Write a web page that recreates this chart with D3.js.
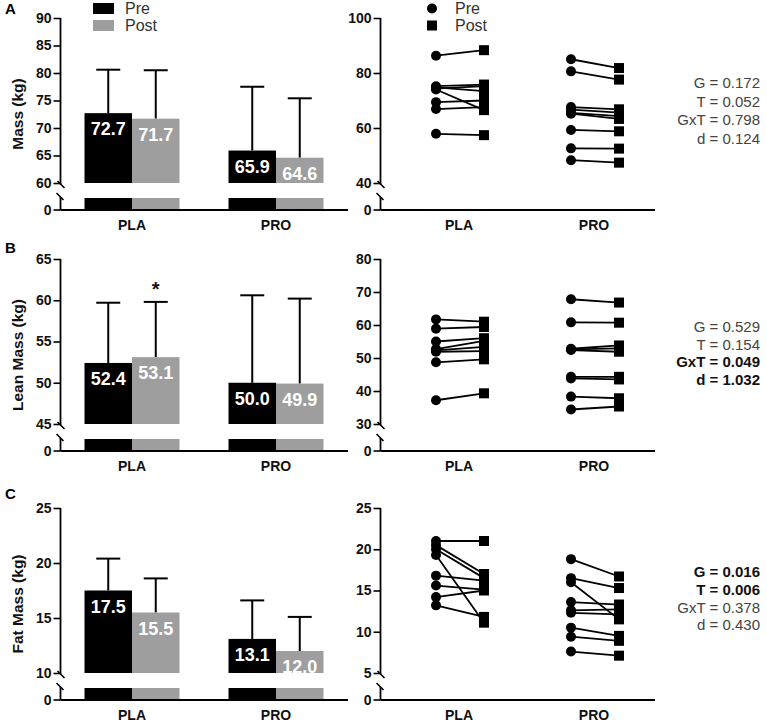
<!DOCTYPE html>
<html><head><meta charset="utf-8">
<script src="https://cdn.jsdelivr.net/npm/d3@7"></script>
<style>
body{margin:0;background:#fff;}
svg{display:block;font-family:Arial,"Liberation Sans",sans-serif;}
</style></head><body>
<svg id="chart" width="767" height="724"></svg>
<script>
// ---------- DATA ----------
const categories = ["PLA", "PRO"];
const timepoints = ["Pre", "Post"];

// Panel A: Mass (kg)
const massMeanPre  = [72.7, 65.9];
const massMeanPost = [71.7, 64.6];
const massSdPre    = [7.9, 11.6];
const massSdPost   = [8.8, 10.8];
const massPLApre  = [86.3, 75.2, 74.8, 74.3, 74.0, 69.4, 66.9, 57.9];
const massPLApost = [88.3, 75.8, 73.4, 75.2, 66.5, 70.0, 67.6, 57.4];
const massPROpre  = [85.0, 80.6, 67.6, 66.7, 65.5, 65.2, 59.3, 52.6, 48.3];
const massPROpost = [81.8, 77.6, 66.8, 65.6, 64.3, 63.3, 58.8, 52.5, 47.4];
const massLeftTicks  = [60, 65, 70, 75, 80, 85, 90];
const massRightTicks = [40, 60, 80, 100];
const massStats = ["G = 0.172", "T = 0.052", "GxT = 0.798", "d = 0.124"];
const massStatsBold = [false, false, false, false];

// Panel B: Lean Mass (kg)
const leanMeanPre  = [52.4, 50.0];
const leanMeanPost = [53.1, 49.9];
const leanSdPre    = [7.3, 10.6];
const leanSdPost   = [6.7, 10.3];
const leanPLApre  = [61.7, 58.9, 55.0, 52.7, 52.3, 51.9, 48.7, 37.2];
const leanPLApost = [61.0, 59.4, 56.0, 55.2, 53.4, 52.1, 49.6, 39.3];
const leanPROpre  = [67.8, 60.8, 52.8, 52.6, 52.4, 44.3, 43.8, 38.3, 34.4];
const leanPROpost = [66.8, 60.7, 53.8, 52.9, 51.9, 44.3, 43.5, 37.8, 35.3];
const leanLeftTicks  = [45, 50, 55, 60, 65];
const leanRightTicks = [30, 40, 50, 60, 70, 80];
const leanStats = ["G = 0.529", "T = 0.154", "GxT = 0.049", "d = 1.032"];
const leanStatsBold = [false, false, true, true];

// Panel C: Fat Mass (kg)
const fatMeanPre  = [17.5, 13.1];
const fatMeanPost = [15.5, 12.0];
const fatSdPre    = [2.9, 3.5];
const fatSdPost   = [3.1, 3.1];
const fatPLApre  = [21.0, 20.5, 20.0, 19.3, 16.8, 15.6, 14.2, 13.2];
const fatPLApost = [21.0, 17.0, 16.5, 11.1, 16.2, 15.1, 15.0, 11.8];
const fatPROpre  = [18.8, 16.5, 16.0, 13.6, 12.6, 12.3, 10.5, 9.4, 7.6];
const fatPROpost = [16.7, 15.3, 11.5, 13.3, 12.7, 12.1, 9.5, 8.9, 7.1];
const fatLeftTicks  = [10, 15, 20, 25];
const fatRightTicks = [5, 10, 15, 20, 25];
const fatStats = ["G = 0.016", "T = 0.006", "GxT = 0.378", "d = 0.430"];
const fatStatsBold = [true, true, false, false];

// ---------- LAYOUT ----------
const svg = d3.select("#chart");
const FONT = 'Arial,"Liberation Sans",sans-serif';
const GRAY = "#9e9e9e";

const panels = [
  {letter:"A", title:"Mass (kg)", top:18, letterY:14,
   meanPre:massMeanPre, meanPost:massMeanPost, sdPre:massSdPre, sdPost:massSdPost,
   pre:[massPLApre, massPROpre], post:[massPLApost, massPROpost],
   leftTicks:massLeftTicks, rightTicks:massRightTicks,
   stats:massStats, bold:massStatsBold, statsY:83, statsGap:18.6, legend:true, star:false},
  {letter:"B", title:"Lean Mass (kg)", top:259, letterY:253,
   meanPre:leanMeanPre, meanPost:leanMeanPost, sdPre:leanSdPre, sdPost:leanSdPost,
   pre:[leanPLApre, leanPROpre], post:[leanPLApost, leanPROpost],
   leftTicks:leanLeftTicks, rightTicks:leanRightTicks,
   stats:leanStats, bold:leanStatsBold, statsY:327, statsGap:17.6, legend:false, star:true},
  {letter:"C", title:"Fat Mass (kg)", top:508, letterY:499,
   meanPre:fatMeanPre, meanPost:fatMeanPost, sdPre:fatSdPre, sdPost:fatSdPost,
   pre:[fatPLApre, fatPROpre], post:[fatPLApost, fatPROpost],
   leftTicks:fatLeftTicks, rightTicks:fatRightTicks,
   stats:fatStats, bold:fatStatsBold, statsY:572, statsGap:17.7, legend:false, star:false}
];

const SEG = 165;      // height of upper (broken) segment
const ZGAP = 27;      // distance break -> zero line
const STUB = 12;      // lower stub height

const leftAxisX = 60.5, leftEnd = 348;
const rightAxisX = 380.5, rightEnd = 655;

// group centres and bar offsets
const xGroupL = d3.scalePoint().domain(categories).range([132, 276]);
const xBar = d3.scaleBand().domain(timepoints).range([-47.5, 47.5]);
const xGroupR = d3.scalePoint().domain(categories).range([459, 594]);
const xTimeR = d3.scalePoint().domain(timepoints).range([-23, 25]);

function brokenAxis(g, ax, yUp, breakY, zeroY, ticks) {
  const axis = d3.axisLeft(yUp).tickValues(ticks).tickSize(7).tickPadding(2).tickFormat(d3.format("d"));
  const ga = g.append("g").attr("transform", `translate(${ax},0)`).call(axis);
  ga.select(".domain").remove();
  ga.selectAll(".tick line").attr("stroke", "#000").attr("stroke-width", 1.6);
  ga.selectAll(".tick text").attr("font-family", FONT).attr("font-size", 14).attr("font-weight", "bold").attr("fill", "#111");
  const topY = yUp.range()[1];
  g.append("line").attr("x1", ax).attr("x2", ax).attr("y1", topY).attr("y2", breakY + 1)
    .attr("stroke", "#000").attr("stroke-width", 1.8);
  // break marks
  g.append("line").attr("x1", ax - 3).attr("y1", breakY - 2).attr("x2", ax + 4).attr("y2", breakY + 5)
    .attr("stroke", "#000").attr("stroke-width", 1.6);
  g.append("line").attr("x1", ax - 4).attr("y1", breakY + 10).attr("x2", ax + 3).attr("y2", breakY + 17)
    .attr("stroke", "#000").attr("stroke-width", 1.6);
  // lower segment
  g.append("line").attr("x1", ax).attr("x2", ax).attr("y1", breakY + 14).attr("y2", zeroY)
    .attr("stroke", "#000").attr("stroke-width", 1.8);
  g.append("line").attr("x1", ax - 7).attr("x2", ax).attr("y1", zeroY).attr("y2", zeroY)
    .attr("stroke", "#000").attr("stroke-width", 1.6);
  g.append("text").attr("x", ax - 9).attr("y", zeroY).attr("dy", "0.35em").attr("text-anchor", "end")
    .attr("font-family", FONT).attr("font-size", 14).attr("font-weight", "bold").attr("fill", "#111").text("0");
}

function xAxis(g, x1, x2, zeroY, xs) {
  g.append("line").attr("x1", x1).attr("x2", x2).attr("y1", zeroY).attr("y2", zeroY)
    .attr("stroke", "#000").attr("stroke-width", 1.8);
  categories.forEach(c => {
    g.append("text").attr("x", xs(c)).attr("y", zeroY + 20).attr("text-anchor", "middle")
      .attr("font-family", FONT).attr("font-size", 14).attr("font-weight", "bold").attr("fill", "#111").text(c);
  });
}

panels.forEach(p => {
  const g = svg.append("g");
  const breakY = p.top + SEG;
  const zeroY = breakY + ZGAP;
  const lo = p.leftTicks[0], hi = p.leftTicks[p.leftTicks.length - 1];
  const yL = d3.scaleLinear().domain([lo, hi]).range([breakY, p.top]);
  const yLow = d3.scaleLinear().domain([0, lo]).range([zeroY, zeroY - STUB]);

  g.append("text").attr("x", 5).attr("y", p.letterY).attr("font-family", FONT).attr("font-size", 15)
    .attr("font-weight", "bold").text(p.letter);

  g.append("text").attr("transform", `translate(23,${(p.top + zeroY) / 2}) rotate(-90)`)
    .attr("text-anchor", "middle").attr("font-family", FONT).attr("font-size", 15.5).attr("font-weight", "bold")
    .attr("fill", "#111").text(p.title);

  categories.forEach((c, ci) => {
    const gc = xGroupL(c);
    [[p.meanPre[ci], p.sdPre[ci], "#000", "Pre"], [p.meanPost[ci], p.sdPost[ci], GRAY, "Post"]].forEach(([m, sd, col, t]) => {
      const x0 = gc + xBar(t), w = xBar.bandwidth();
      const cx = x0 + w / 2;
      g.append("line").attr("x1", cx).attr("x2", cx).attr("y1", yL(m)).attr("y2", yL(m + sd))
        .attr("stroke", "#000").attr("stroke-width", 2);
      g.append("line").attr("x1", cx - 12).attr("x2", cx + 12).attr("y1", yL(m + sd)).attr("y2", yL(m + sd))
        .attr("stroke", "#000").attr("stroke-width", 2);
      g.append("rect").attr("x", x0).attr("y", yL(m)).attr("width", w).attr("height", yL(lo) - yL(m)).attr("fill", col);
      g.append("rect").attr("x", x0).attr("y", yLow(lo)).attr("width", w).attr("height", yLow(0) - yLow(lo)).attr("fill", col);
      g.append("text").attr("x", cx).attr("y", yL(m) + 16).attr("dy", "0.35em").attr("text-anchor", "middle")
        .attr("font-family", FONT).attr("font-size", 18).attr("font-weight", "bold").attr("fill", "#fff")
        .text(d3.format(".1f")(m));
      if (p.star && ci === 0 && t === "Post") {
        g.append("text").attr("x", cx).attr("y", yL(m + sd) - 6).attr("text-anchor", "middle")
          .attr("font-family", FONT).attr("font-size", 20).attr("font-weight", "bold").attr("fill", "#111").text("*");
      }
    });
  });
  brokenAxis(g, leftAxisX, yL, breakY, zeroY, p.leftTicks);
  xAxis(g, leftAxisX, leftEnd, zeroY, c => xGroupL(c));

  const rlo = p.rightTicks[0], rhi = p.rightTicks[p.rightTicks.length - 1];
  const yR = d3.scaleLinear().domain([rlo, rhi]).range([breakY, p.top]);
  categories.forEach((c, ci) => {
    const xp = xGroupR(c) + xTimeR("Pre"), xq = xGroupR(c) + xTimeR("Post");
    p.pre[ci].forEach((v, i) => {
      g.append("line").attr("x1", xp).attr("x2", xq).attr("y1", yR(v)).attr("y2", yR(p.post[ci][i]))
        .attr("stroke", "#000").attr("stroke-width", 1.8);
    });
    p.pre[ci].forEach(v => {
      g.append("circle").attr("cx", xp).attr("cy", yR(v)).attr("r", 5).attr("fill", "#000");
    });
    p.post[ci].forEach(v => {
      g.append("rect").attr("x", xq - 5).attr("y", yR(v) - 5).attr("width", 10).attr("height", 10).attr("fill", "#000");
    });
  });
  brokenAxis(g, rightAxisX, yR, breakY, zeroY, p.rightTicks);
  xAxis(g, rightAxisX, rightEnd, zeroY, c => xGroupR(c));

  p.stats.forEach((s, i) => {
    g.append("text").attr("x", 760).attr("y", p.statsY + i * p.statsGap).attr("dy", "0.35em")
      .attr("text-anchor", "end").attr("font-family", FONT).attr("font-size", 15)
      .attr("font-weight", p.bold[i] ? "bold" : "normal").attr("fill", p.bold[i] ? "#111" : "#444").text(s);
  });

  if (p.legend) {
    const lg = g.append("g");
    lg.append("rect").attr("x", 93).attr("y", 3).attr("width", 21).attr("height", 11).attr("fill", "#000");
    lg.append("rect").attr("x", 93).attr("y", 20).attr("width", 21).attr("height", 11).attr("fill", GRAY);
    lg.append("circle").attr("cx", 432).attr("cy", 8.5).attr("r", 5).attr("fill", "#000");
    lg.append("rect").attr("x", 427).attr("y", 20.5).attr("width", 10).attr("height", 10).attr("fill", "#000");
    [[125, 8.5, "Pre"], [125, 25.5, "Post"], [455, 8.5, "Pre"], [455, 25.5, "Post"]].forEach(([x, y, t]) => {
      lg.append("text").attr("x", x).attr("y", y).attr("dy", "0.35em").attr("font-family", FONT)
        .attr("font-size", 16).attr("fill", "#333").text(t);
    });
  }
});
</script>
</body></html>
